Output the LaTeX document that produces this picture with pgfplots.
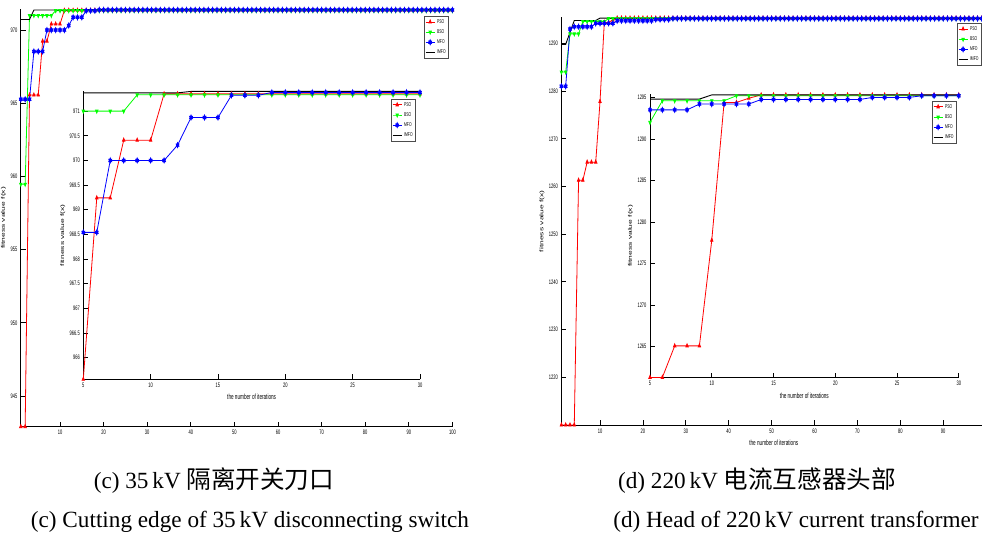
\documentclass[border=0pt]{standalone}
\usepackage{fontspec}
\setmainfont{Liberation Sans}
\newfontfamily\capfont{Liberation Serif}
\newfontfamily\cjk[Scale=1.06]{Noto Sans CJK SC}
\usepackage{graphicx}
\usepackage{pgfplots}
\usepackage{pgfplotstable}
\pgfplotsset{compat=1.18}

% the source figure is squeezed sideways, so text is squeezed too
\newcommand\sx[1]{\scalebox{0.62}[1]{#1}}
\newcommand\sy[1]{\scalebox{1}[0.62]{#1}}

\pgfdeclareplotmark{hexagram}{%
  \pgfpathmoveto{\pgfpointpolar{90}{\pgfplotmarksize}}%
  \pgfpathlineto{\pgfpointpolar{210}{\pgfplotmarksize}}%
  \pgfpathlineto{\pgfpointpolar{330}{\pgfplotmarksize}}%
  \pgfpathclose
  \pgfpathmoveto{\pgfpointpolar{270}{\pgfplotmarksize}}%
  \pgfpathlineto{\pgfpointpolar{390}{\pgfplotmarksize}}%
  \pgfpathlineto{\pgfpointpolar{510}{\pgfplotmarksize}}%
  \pgfpathclose
  \pgfusepathqfillstroke}

% 35 kV disconnecting switch
\pgfplotstableread{
x p b m i
1 942.90 959.47 965.27 970.72
2 942.90 959.47 965.27 970.72
3 965.56 971.00 965.27 970.72
4 965.56 971.00 968.54 971.37
5 965.56 971.00 968.54 971.37
6 969.24 971.00 968.54 971.37
7 969.24 971.00 970.00 971.37
8 970.41 971.00 970.00 971.37
9 970.41 971.33 970.00 971.37
10 970.41 971.33 970.00 971.37
11 971.35 971.33 970.00 971.37
12 971.35 971.33 970.31 971.37
13 971.35 971.33 970.87 971.40
14 971.35 971.33 970.87 971.40
15 971.35 971.33 970.87 971.40
16 971.35 971.33 971.32 971.40
17 971.35 971.33 971.32 971.40
18 971.35 971.33 971.32 971.40
19 971.35 971.33 971.38 971.40
20 971.35 971.33 971.38 971.40
21 971.35 971.33 971.38 971.40
22 971.35 971.33 971.38 971.40
23 971.35 971.33 971.38 971.40
24 971.35 971.33 971.38 971.40
25 971.35 971.33 971.38 971.40
26 971.35 971.33 971.38 971.40
27 971.35 971.33 971.38 971.40
28 971.35 971.33 971.38 971.40
29 971.35 971.33 971.38 971.40
30 971.35 971.33 971.38 971.40
31 971.35 971.33 971.38 971.40
32 971.35 971.33 971.38 971.40
33 971.35 971.33 971.38 971.40
34 971.35 971.33 971.38 971.40
35 971.35 971.33 971.38 971.40
36 971.35 971.33 971.38 971.40
37 971.35 971.33 971.38 971.40
38 971.35 971.33 971.38 971.40
39 971.35 971.33 971.38 971.40
40 971.35 971.33 971.38 971.40
41 971.35 971.33 971.38 971.40
42 971.35 971.33 971.38 971.40
43 971.35 971.33 971.38 971.40
44 971.35 971.33 971.38 971.40
45 971.35 971.33 971.38 971.40
46 971.35 971.33 971.38 971.40
47 971.35 971.33 971.38 971.40
48 971.35 971.33 971.38 971.40
49 971.35 971.33 971.38 971.40
50 971.35 971.33 971.38 971.40
51 971.35 971.33 971.38 971.40
52 971.35 971.33 971.38 971.40
53 971.35 971.33 971.38 971.40
54 971.35 971.33 971.38 971.40
55 971.35 971.33 971.38 971.40
56 971.35 971.33 971.38 971.40
57 971.35 971.33 971.38 971.40
58 971.35 971.33 971.38 971.40
59 971.35 971.33 971.38 971.40
60 971.35 971.33 971.38 971.40
61 971.35 971.33 971.38 971.40
62 971.35 971.33 971.38 971.40
63 971.35 971.33 971.38 971.40
64 971.35 971.33 971.38 971.40
65 971.35 971.33 971.38 971.40
66 971.35 971.33 971.38 971.40
67 971.35 971.33 971.38 971.40
68 971.35 971.33 971.38 971.40
69 971.35 971.33 971.38 971.40
70 971.35 971.33 971.38 971.40
71 971.35 971.33 971.38 971.40
72 971.35 971.33 971.38 971.40
73 971.35 971.33 971.38 971.40
74 971.35 971.33 971.38 971.40
75 971.35 971.33 971.38 971.40
76 971.35 971.33 971.38 971.40
77 971.35 971.33 971.38 971.40
78 971.35 971.33 971.38 971.40
79 971.35 971.33 971.38 971.40
80 971.35 971.33 971.38 971.40
81 971.35 971.33 971.38 971.40
82 971.35 971.33 971.38 971.40
83 971.35 971.33 971.38 971.40
84 971.35 971.33 971.38 971.40
85 971.35 971.33 971.38 971.40
86 971.35 971.33 971.38 971.40
87 971.35 971.33 971.38 971.40
88 971.35 971.33 971.38 971.40
89 971.35 971.33 971.38 971.40
90 971.35 971.33 971.38 971.40
91 971.35 971.33 971.38 971.40
92 971.35 971.33 971.38 971.40
93 971.35 971.33 971.38 971.40
94 971.35 971.33 971.38 971.40
95 971.35 971.33 971.38 971.40
96 971.35 971.33 971.38 971.40
97 971.35 971.33 971.38 971.40
98 971.35 971.33 971.38 971.40
99 971.35 971.33 971.38 971.40
100 971.35 971.33 971.38 971.40
}\leftdata

% 220 kV current transformer
\pgfplotstableread{
x p b m i
1 1210.0 1284.0 1281.0 1289.8
2 1210.0 1284.0 1281.0 1289.8
3 1210.0 1292.0 1293.0 1292.3
4 1210.0 1292.0 1293.5 1294.8
5 1261.3 1292.0 1293.5 1294.8
6 1261.3 1294.6 1293.5 1294.8
7 1265.1 1294.6 1293.5 1294.8
8 1265.1 1294.6 1293.5 1294.8
9 1265.1 1294.6 1294.2 1294.8
10 1277.8 1294.6 1294.2 1295.3
11 1294.4 1294.6 1294.2 1295.3
12 1294.4 1295.2 1294.2 1295.3
13 1294.9 1295.2 1294.2 1295.3
14 1295.3 1295.2 1294.75 1295.3
15 1295.3 1295.2 1294.75 1295.3
16 1295.3 1295.2 1294.75 1295.3
17 1295.3 1295.2 1294.75 1295.3
18 1295.3 1295.2 1294.75 1295.3
19 1295.3 1295.2 1294.75 1295.3
20 1295.3 1295.2 1294.75 1295.3
21 1295.3 1295.2 1294.75 1295.3
22 1295.3 1295.2 1294.75 1295.3
23 1295.3 1295.2 1295.0 1295.3
24 1295.3 1295.2 1295.0 1295.3
25 1295.3 1295.2 1295.0 1295.3
26 1295.3 1295.2 1295.0 1295.3
27 1295.3 1295.2 1295.2 1295.3
28 1295.3 1295.2 1295.2 1295.3
29 1295.3 1295.2 1295.2 1295.3
30 1295.3 1295.2 1295.2 1295.3
31 1295.3 1295.2 1295.2 1295.3
32 1295.3 1295.2 1295.2 1295.3
33 1295.3 1295.2 1295.2 1295.3
34 1295.3 1295.2 1295.2 1295.3
35 1295.3 1295.2 1295.2 1295.3
36 1295.3 1295.2 1295.2 1295.3
37 1295.3 1295.2 1295.2 1295.3
38 1295.3 1295.2 1295.2 1295.3
39 1295.3 1295.2 1295.2 1295.3
40 1295.3 1295.2 1295.2 1295.3
41 1295.3 1295.2 1295.2 1295.3
42 1295.3 1295.2 1295.2 1295.3
43 1295.3 1295.2 1295.2 1295.3
44 1295.3 1295.2 1295.2 1295.3
45 1295.3 1295.2 1295.2 1295.3
46 1295.3 1295.2 1295.2 1295.3
47 1295.3 1295.2 1295.2 1295.3
48 1295.3 1295.2 1295.2 1295.3
49 1295.3 1295.2 1295.2 1295.3
50 1295.3 1295.2 1295.2 1295.3
51 1295.3 1295.2 1295.2 1295.3
52 1295.3 1295.2 1295.2 1295.3
53 1295.3 1295.2 1295.2 1295.3
54 1295.3 1295.2 1295.2 1295.3
55 1295.3 1295.2 1295.2 1295.3
56 1295.3 1295.2 1295.2 1295.3
57 1295.3 1295.2 1295.2 1295.3
58 1295.3 1295.2 1295.2 1295.3
59 1295.3 1295.2 1295.2 1295.3
60 1295.3 1295.2 1295.2 1295.3
61 1295.3 1295.2 1295.2 1295.3
62 1295.3 1295.2 1295.2 1295.3
63 1295.3 1295.2 1295.2 1295.3
64 1295.3 1295.2 1295.2 1295.3
65 1295.3 1295.2 1295.2 1295.3
66 1295.3 1295.2 1295.2 1295.3
67 1295.3 1295.2 1295.2 1295.3
68 1295.3 1295.2 1295.2 1295.3
69 1295.3 1295.2 1295.2 1295.3
70 1295.3 1295.2 1295.2 1295.3
71 1295.3 1295.2 1295.2 1295.3
72 1295.3 1295.2 1295.2 1295.3
73 1295.3 1295.2 1295.2 1295.3
74 1295.3 1295.2 1295.2 1295.3
75 1295.3 1295.2 1295.2 1295.3
76 1295.3 1295.2 1295.2 1295.3
77 1295.3 1295.2 1295.2 1295.3
78 1295.3 1295.2 1295.2 1295.3
79 1295.3 1295.2 1295.2 1295.3
80 1295.3 1295.2 1295.2 1295.3
81 1295.3 1295.2 1295.2 1295.3
82 1295.3 1295.2 1295.2 1295.3
83 1295.3 1295.2 1295.2 1295.3
84 1295.3 1295.2 1295.2 1295.3
85 1295.3 1295.2 1295.2 1295.3
86 1295.3 1295.2 1295.2 1295.3
87 1295.3 1295.2 1295.2 1295.3
88 1295.3 1295.2 1295.2 1295.3
89 1295.3 1295.2 1295.2 1295.3
90 1295.3 1295.2 1295.2 1295.3
91 1295.3 1295.2 1295.2 1295.3
92 1295.3 1295.2 1295.2 1295.3
93 1295.3 1295.2 1295.2 1295.3
94 1295.3 1295.2 1295.2 1295.3
95 1295.3 1295.2 1295.2 1295.3
96 1295.3 1295.2 1295.2 1295.3
97 1295.3 1295.2 1295.2 1295.3
98 1295.3 1295.2 1295.2 1295.3
99 1295.3 1295.2 1295.2 1295.3
100 1295.3 1295.2 1295.2 1295.3
}\rightdata

\pgfplotsset{
  mat/.style={
    scale only axis, anchor=south west,
    axis x line*=bottom, axis y line*=left,
    axis line style={black, line width=0.8pt},
    tick align=inside, major tick length=5pt,
    tick style={black, line width=0.8pt},
    tick label style={font=\fontsize{6.5}{7}\selectfont},
    xlabel style={font=\fontsize{7.5}{8}\selectfont},
    ylabel style={font=\fontsize{8.5}{9}\selectfont, inner sep=1pt},
    /pgf/number format/assume math mode=true,
    /pgf/number format/1000 sep={},
    xticklabel={\sx{\pgfmathprintnumber{\tick}}},
    yticklabel={\sx{\pgfmathprintnumber{\tick}}},
    clip=false,
    axis background/.style={fill=white},
    legend cell align=left,
    legend style={font=\fontsize{5.5}{6}\selectfont, draw=black!70, line width=0.6pt,
      inner sep=1pt, row sep=0.8pt, fill=white},
    legend image code/.code={\draw[mark repeat=2,mark phase=2,##1]
      plot coordinates {(0pt,0pt) (4.5pt,0pt) (9pt,0pt)};},
  },
  pso/.style={red, line width=0.8pt, mark=triangle*, mark size=2pt, mark options={xscale=0.7}},
  bso/.style={green, line width=0.8pt, mark=triangle*, mark size=2pt, mark options={xscale=0.7, rotate=180}},
  mfo/.style={blue, line width=0.8pt, mark=hexagram, mark size=2.4pt, mark options={xscale=0.7}},
  imfo/.style={black, line width=0.9pt},
}

\begin{document}
\begin{tikzpicture}
\useasboundingbox (0,0) rectangle (982pt,536pt);

% ---- (c) main
\begin{axis}[mat, at={(20.8pt,109.3pt)}, width=431.6pt, height=417.4pt,
  xmin=1, xmax=100, ymin=942.9, ymax=971.42,
  xtick={10,20,...,100}, ytick={945,950,955,960,965,970},
  ylabel={\sy{fitness value f(x)}},
  legend style={at={(0.992,0.984)}, anchor=north east}]
\addplot[pso] table[x=x,y=p]{\leftdata};
\addplot[bso] table[x=x,y=b]{\leftdata};
\addplot[mfo] table[x=x,y=m]{\leftdata};
\addplot[imfo] table[x=x,y=i]{\leftdata};
\legend{\sx{PSO},\sx{BSO},\sx{MFO},\sx{IMFO}}
\end{axis}

% ---- (c) inset
\begin{axis}[mat, at={(83.3pt,156.7pt)}, width=336.7pt, height=287.9pt,
  xmin=5, xmax=30, ymin=965.56, ymax=971.40,
  xtick={5,10,15,20,25,30},
  ytick={966,966.5,967,967.5,968,968.5,969,969.5,970,970.5,971},
  restrict x to domain=5:30,
  xlabel={\sx{the number of iterations}}, ylabel={\sy{fitness value f(x)}},
  legend style={at={(0.988,0.974)}, anchor=north east}]
\addplot[pso] table[x=x,y=p]{\leftdata};
\addplot[bso] table[x=x,y=b]{\leftdata};
\addplot[mfo] table[x=x,y=m]{\leftdata};
\addplot[imfo] table[x=x,y=i]{\leftdata};
\legend{\sx{PSO},\sx{BSO},\sx{MFO},\sx{IMFO}}
\end{axis}

% ---- (d) main
\begin{axis}[mat, at={(561.4pt,111pt)}, width=424.7pt, height=407.6pt,
  xmin=1, xmax=100, ymin=1210, ymax=1295.45,
  xtick={10,20,...,90}, ytick={1220,1230,...,1290},
  xlabel={\sx{the number of iterations}}, ylabel={\sy{fitness value f(x)}},
  legend style={at={(0.990,0.986)}, anchor=north east}]
\addplot[pso] table[x=x,y=p]{\rightdata};
\addplot[bso] table[x=x,y=b]{\rightdata};
\addplot[mfo] table[x=x,y=m]{\rightdata};
\addplot[imfo] table[x=x,y=i]{\rightdata};
\legend{\sx{PSO},\sx{BSO},\sx{MFO},\sx{IMFO}}
\end{axis}

% ---- (d) inset
\begin{axis}[mat, at={(650pt,158.3pt)}, width=308.75pt, height=283.6pt,
  xmin=5, xmax=30, ymin=1261.27, ymax=1295.4,
  xtick={5,10,15,20,25,30}, ytick={1265,1270,...,1295},
  restrict x to domain=5:30,
  xlabel={\sx{the number of iterations}}, ylabel={\sy{fitness value f(x)}},
  legend style={at={(0.994,0.976)}, anchor=north east}]
\addplot[pso] table[x=x,y=p]{\rightdata};
\addplot[bso] table[x=x,y=b]{\rightdata};
\addplot[mfo] table[x=x,y=m]{\rightdata};
\addplot[imfo] table[x=x,y=i]{\rightdata};
\legend{\sx{PSO},\sx{BSO},\sx{MFO},\sx{IMFO}}
\end{axis}

% captions
\begin{scope}[every node/.style={font=\capfont\fontsize{23.2}{25}\selectfont, inner sep=0pt}]
\node at (214pt,55pt) {(c) 35\,kV {\cjk 隔离开关刀口}};
\node at (250pt,14pt) {(c) Cutting edge of 35\,kV disconnecting switch};
\node at (757pt,55pt) {(d) 220\,kV {\cjk 电流互感器头部}};
\node at (796pt,14pt) {(d) Head of 220\,kV current transformer};
\end{scope}
\end{tikzpicture}
\end{document}
